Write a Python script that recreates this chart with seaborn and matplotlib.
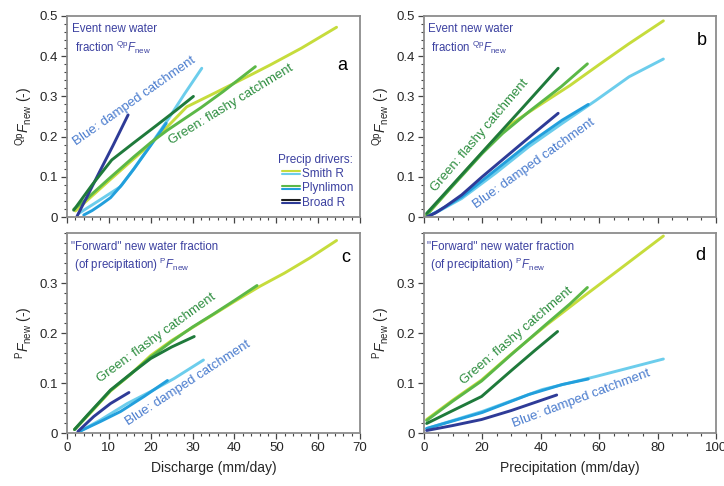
import numpy as np
import pandas as pd
import matplotlib
matplotlib.use("Agg")
import matplotlib.pyplot as plt
from matplotlib.ticker import MultipleLocator, FixedLocator, FuncFormatter
from matplotlib.legend_handler import HandlerBase
from matplotlib.lines import Line2D
import seaborn as sns

# ---------------- data ----------------
series_names = ["Smith R green", "Smith R blue", "Plynlimon green",
                "Plynlimon blue", "Broad R green", "Broad R blue"]

# Panel a: event new water fraction vs discharge
a_smith_g_x = [2, 10, 20, 28.6, 36, 44, 48.5, 56, 64.4]
a_smith_g_y = [0.015, 0.09, 0.182, 0.274, 0.312, 0.354, 0.378, 0.42, 0.472]
a_smith_b_x = [2.8, 6, 9, 12.7, 16, 20, 24.6, 28, 32.2]
a_smith_b_y = [0.009, 0.03, 0.05, 0.075, 0.12, 0.18, 0.25, 0.305, 0.37]
a_plyn_g_x = [1.6, 5, 10, 16, 20, 24, 28, 32, 37.3, 45]
a_plyn_g_y = [0.019, 0.048, 0.095, 0.15, 0.185, 0.216, 0.244, 0.272, 0.312, 0.374]
a_plyn_b_x = [4, 6, 8, 10.4, 13.1, 16, 20, 23.7]
a_plyn_b_y = [0.005, 0.016, 0.03, 0.048, 0.08, 0.12, 0.178, 0.233]
a_broad_g_x = [1.6, 6, 10.7, 16, 21.4, 26, 30.2]
a_broad_g_y = [0.017, 0.08, 0.142, 0.185, 0.228, 0.265, 0.3]
a_broad_b_x = [2.4, 5, 8, 11, 14.6]
a_broad_b_y = [0.002, 0.055, 0.117, 0.178, 0.254]

# Panel b: event new water fraction vs precipitation
b_smith_g_x = [1, 10, 20, 25, 30, 40, 50, 60, 70, 82]
b_smith_g_y = [0.005, 0.08, 0.16, 0.2, 0.232, 0.28, 0.327, 0.379, 0.43, 0.488]
b_smith_b_x = [1, 5, 13, 24.6, 36, 47.4, 58.9, 70.3, 82]
b_smith_b_y = [0.0, 0.014, 0.046, 0.109, 0.175, 0.233, 0.29, 0.349, 0.393]
b_plyn_g_x = [1, 10, 20, 27, 36, 47, 56]
b_plyn_g_y = [0.005, 0.078, 0.158, 0.208, 0.262, 0.324, 0.381]
b_plyn_b_x = [1, 5, 13, 24.6, 36, 47.4, 56.3]
b_plyn_b_y = [0.0, 0.015, 0.05, 0.117, 0.183, 0.241, 0.28]
b_broad_g_x = [1, 12, 23, 34, 46]
b_broad_g_y = [0.009, 0.097, 0.185, 0.273, 0.37]
b_broad_b_x = [1, 4, 7.4, 13, 20, 30.3, 38, 46]
b_broad_b_y = [0.0, 0.01, 0.026, 0.055, 0.1, 0.163, 0.21, 0.258]

# Panel c: forward new water fraction vs discharge
c_smith_g_x = [1.8, 5, 10.4, 15, 20, 25, 29.6, 35, 40, 46, 52, 58, 64.4]
c_smith_g_y = [0.007, 0.035, 0.084, 0.116, 0.155, 0.185, 0.209, 0.237, 0.263,
               0.293, 0.32, 0.35, 0.385]
c_smith_b_x = [3.2, 8, 14.4, 20, 25.6, 32.6]
c_smith_b_y = [0.004, 0.026, 0.059, 0.083, 0.109, 0.146]
c_plyn_g_x = [1.8, 5, 10.4, 15, 20, 25, 30, 35, 40, 45.4]
c_plyn_g_y = [0.007, 0.036, 0.085, 0.116, 0.152, 0.183, 0.212, 0.238, 0.265, 0.295]
c_plyn_b_x = [3.2, 8, 12.8, 18.4, 24]
c_plyn_b_y = [0.004, 0.023, 0.043, 0.073, 0.105]
c_broad_g_x = [1.8, 5, 10.4, 15, 20, 25, 30.4]
c_broad_g_y = [0.007, 0.037, 0.086, 0.117, 0.149, 0.172, 0.193]
c_broad_b_x = [2.6, 6.4, 10.4, 14.8]
c_broad_b_y = [0.003, 0.033, 0.059, 0.081]

# Panel d: forward new water fraction vs precipitation
d_smith_g_x = [1, 10, 19.8, 30, 42, 54, 66, 82]
d_smith_g_y = [0.027, 0.066, 0.106, 0.158, 0.216, 0.27, 0.323, 0.394]
d_smith_b_x = [1, 20, 40.6, 58.9, 82]
d_smith_b_y = [0.009, 0.043, 0.087, 0.113, 0.148]
d_plyn_g_x = [1, 10, 19.8, 30, 42, 50, 56]
d_plyn_g_y = [0.025, 0.064, 0.104, 0.157, 0.218, 0.258, 0.291]
d_plyn_b_x = [1, 20, 36, 47.4, 56.3]
d_plyn_b_y = [0.009, 0.041, 0.077, 0.097, 0.108]
d_broad_g_x = [1, 10, 19.8, 30, 38, 45.8]
d_broad_g_y = [0.019, 0.045, 0.073, 0.125, 0.165, 0.203]
d_broad_b_x = [1, 10, 19.8, 30, 45.5]
d_broad_b_y = [0.005, 0.015, 0.027, 0.045, 0.076]

legend_labels = ["Smith R", "Plynlimon", "Broad R"]

# ---------------- styles ----------------
palette = {
    "Smith R green": "#c6dc3c",
    "Smith R blue": "#6ccdec",
    "Plynlimon green": "#5cb847",
    "Plynlimon blue": "#229fdc",
    "Broad R green": "#1f7a3b",
    "Broad R blue": "#2e3b97",
}
draw_order = ["Smith R blue", "Smith R green", "Plynlimon blue",
              "Plynlimon green", "Broad R blue", "Broad R green"]
navy = "#3b40a0"
blue_txt = "#4a7cce"
green_txt = "#2e8e40"

sns.set_theme(style="ticks")
plt.rcParams["font.family"] = ["Liberation Sans", "DejaVu Sans"]
plt.rcParams["mathtext.fontset"] = "custom"
plt.rcParams["mathtext.rm"] = "Liberation Sans"
plt.rcParams["mathtext.it"] = "Liberation Sans:italic"
plt.rcParams["mathtext.bf"] = "Liberation Sans:bold"


def make_df(prefix):
    g = globals()
    keys = ["smith_g", "smith_b", "plyn_g", "plyn_b", "broad_g", "broad_b"]
    names = ["Smith R green", "Smith R blue", "Plynlimon green",
             "Plynlimon blue", "Broad R green", "Broad R blue"]
    rows = []
    for k, n in zip(keys, names):
        xs = g[f"{prefix}_{k}_x"]
        ys = g[f"{prefix}_{k}_y"]
        for i, (xv, yv) in enumerate(zip(xs, ys)):
            rows.append({"x": xv, "y": yv, "series": n, "i": i})
    return pd.DataFrame(rows)


fig = plt.figure(figsize=(7.24, 4.86), dpi=100)
W, H = 724, 486
ax_a = fig.add_axes([67 / W, (H - 217) / H, 293 / W, 201 / H])
ax_b = fig.add_axes([423.7 / W, (H - 217) / H, 292.3 / W, 201 / H])
ax_c = fig.add_axes([67 / W, (H - 433) / H, 293 / W, 200 / H])
ax_d = fig.add_axes([423.7 / W, (H - 433) / H, 292.3 / W, 200 / H])

fmt = FuncFormatter(lambda v, p: f"{v:g}")

for ax, prefix in [(ax_a, "a"), (ax_b, "b"), (ax_c, "c"), (ax_d, "d")]:
    df = make_df(prefix)
    for name in draw_order:
        sub = df[df["series"] == name]
        sns.lineplot(data=sub, x="x", y="y", color=palette[name], lw=2.1,
                     estimator=None, sort=False, legend=False, ax=ax,
                     solid_capstyle="round")
    ax.set_xlabel("")
    ax.set_ylabel("")
    for s in ax.spines.values():
        s.set_color("#8c8c8c")
        s.set_linewidth(1.3)
    ax.tick_params(which="major", direction="out", length=4.5, width=0.9,
                   color="#444444", labelsize=9.5, pad=2)
    ax.tick_params(which="minor", direction="out", length=2.5, width=0.8,
                   color="#444444")
    ax.xaxis.set_major_formatter(fmt)
    ax.yaxis.set_major_formatter(fmt)

# limits / ticks
for ax in (ax_a, ax_c):
    ax.set_xlim(0, 70)
    ax.xaxis.set_major_locator(MultipleLocator(10))
    ax.xaxis.set_minor_locator(MultipleLocator(2))
for ax in (ax_b, ax_d):
    ax.set_xlim(0, 100)
    ax.xaxis.set_major_locator(MultipleLocator(20))
    ax.xaxis.set_minor_locator(MultipleLocator(5))
for ax in (ax_a, ax_b):
    ax.set_ylim(0, 0.5)
    ax.yaxis.set_major_locator(MultipleLocator(0.1))
    ax.yaxis.set_minor_locator(MultipleLocator(0.02))
    ax.tick_params(labelbottom=False)
    ax.set_ylabel(r"$^{\mathrm{Qp}}F_{\mathrm{new}}$ (-)", fontsize=10, labelpad=3)
for ax in (ax_c, ax_d):
    ax.set_ylim(0, 0.4)
    ax.yaxis.set_major_locator(FixedLocator([0, 0.1, 0.2, 0.3]))
    ax.yaxis.set_minor_locator(MultipleLocator(0.02))
    ax.set_ylabel(r"$^{\mathrm{P}}F_{\mathrm{new}}$ (-)", fontsize=10, labelpad=3)
ax_c.set_xlabel("Discharge (mm/day)", fontsize=10, labelpad=5)
ax_d.set_xlabel("Precipitation (mm/day)", fontsize=10, labelpad=5)

# panel titles / notes
for ax in (ax_a, ax_b):
    ax.text(0.016, 0.965, "Event new water\n fraction $^{\\mathrm{Qp}}F_{\\mathrm{new}}$",
            transform=ax.transAxes, ha="left", va="top", fontsize=8.3,
            color=navy, linespacing=1.25)
for ax in (ax_c, ax_d):
    ax.text(0.013, 0.96, "\"Forward\" new water fraction\n (of precipitation) $^{\\mathrm{P}}F_{\\mathrm{new}}$",
            transform=ax.transAxes, ha="left", va="top", fontsize=8.3,
            color=navy, linespacing=1.25)

for ax, letter, xy in [(ax_a, "a", (0.94, 0.755)), (ax_b, "b", (0.952, 0.88)),
                       (ax_c, "c", (0.95, 0.88)), (ax_d, "d", (0.946, 0.885))]:
    ax.text(xy[0], xy[1], letter, transform=ax.transAxes, ha="center",
            va="center", fontsize=13, color="black")

# catchment labels
labels = [
    (ax_a, "Blue: damped catchment", 16, 0.287, 35, blue_txt),
    (ax_a, "Green: flashy catchment", 39.2, 0.279, 31.4, green_txt),
    (ax_b, "Green: flashy catchment", 19.1, 0.202, 49.6, green_txt),
    (ax_b, "Blue: damped catchment", 37.7, 0.133, 35.5, blue_txt),
    (ax_c, "Green: flashy catchment", 21.4, 0.189, 36, green_txt),
    (ax_c, "Blue: damped catchment", 29, 0.099, 33, blue_txt),
    (ax_d, "Green: flashy catchment", 31.7, 0.194, 40.5, green_txt),
    (ax_d, "Blue: damped catchment", 54, 0.069, 20.6, blue_txt),
]
for ax, t, x, y, rot, col in labels:
    ax.text(x, y, t, rotation=rot, rotation_mode="anchor", ha="center",
            va="center", fontsize=9.5, color=col)


# legend with double-line handles
class TwoLineHandler(HandlerBase):
    def create_artists(self, legend, orig_handle, xdescent, ydescent,
                       width, height, fontsize, trans):
        c1, c2 = orig_handle
        yc = (height - ydescent) / 2.0
        l1 = Line2D([-xdescent, width - xdescent], [yc + 1.0, yc + 1.0],
                    color=c1, lw=1.5, transform=trans)
        l2 = Line2D([-xdescent, width - xdescent], [yc - 1.0, yc - 1.0],
                    color=c2, lw=1.5, transform=trans)
        return [l1, l2]


handles = [(palette["Smith R green"], palette["Smith R blue"]),
           (palette["Plynlimon green"], palette["Plynlimon blue"]),
           ("#1e1e1e", palette["Broad R blue"])]
leg = ax_a.legend(handles, legend_labels, handler_map={tuple: TwoLineHandler()},
                  loc="lower right", bbox_to_anchor=(1.005, 0.0), frameon=False,
                  fontsize=8.5, title="Precip drivers:", title_fontsize=8.5,
                  handlelength=1.55, handletextpad=0.15, labelspacing=0.2,
                  borderaxespad=0.3, alignment="right")
leg.get_title().set_color(navy)
for t in leg.get_texts():
    t.set_color(navy)

fig.savefig("out.png", dpi=100)
